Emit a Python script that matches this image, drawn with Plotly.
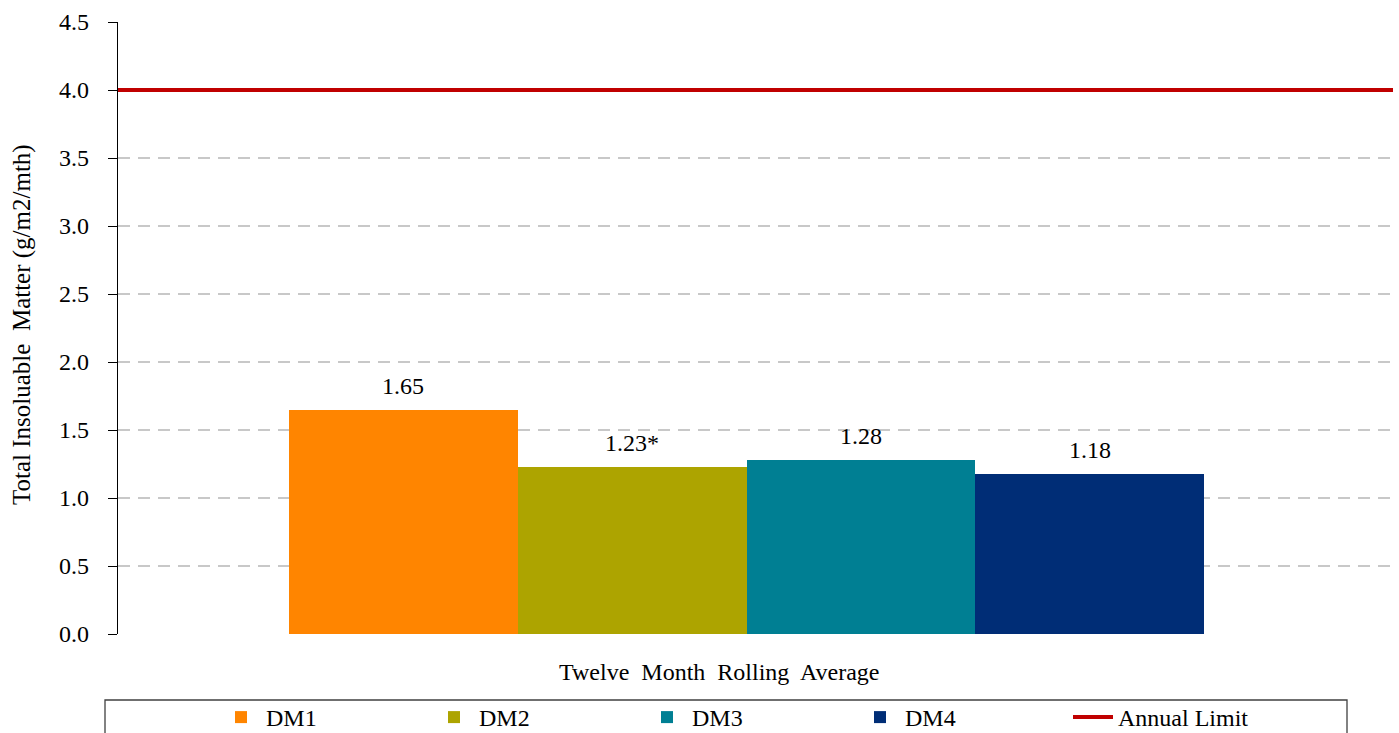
import plotly.graph_objects as go

series = ["DM1", "DM2", "DM3", "DM4"]
values = [1.65, 1.23, 1.28, 1.18]
labels = ["1.65", "1.23*", "1.28", "1.18"]
colors = ["#FF8500", "#ADA400", "#007F93", "#002D76"]
limit_name = "Annual Limit"
limit_value = 4.0
category = "Twelve  Month  Rolling  Average"
y_title = "Total Insoluable  Matter (g/m2/mth)"
y_ticks = [0.0, 0.5, 1.0, 1.5, 2.0, 2.5, 3.0, 3.5, 4.0, 4.5]

FONT = "Liberation Serif"
FS = 24
W, H = 1399, 733
L, R, T, B = 118, 6, 22, 99
pw = W - L - R
ph = H - T - B

x_lo, x_hi = -0.493, 0.507
bw = (915 / pw) / len(series)

fig = go.Figure()
for i, (s, v, c) in enumerate(zip(series, values, colors)):
    xi = (i - (len(series) - 1) / 2) * bw
    fig.add_trace(go.Bar(
        x=[xi], y=[v], width=[bw], name=s,
        marker=dict(color=c, line=dict(width=0)),
    ))
    fig.add_annotation(
        x=xi, y=v, text=labels[i], showarrow=False,
        yanchor="bottom", yshift=9,
        font=dict(family=FONT, size=FS, color="#000000"),
    )

fig.add_trace(go.Scatter(
    x=[x_lo, x_hi], y=[limit_value, limit_value], mode="lines",
    name=limit_name, line=dict(color="#C00000", width=4),
))

fig.add_annotation(
    x=(719 - L) / pw, y=(634 - 672) / ph, xref="paper", yref="paper",
    text=category, showarrow=False, xanchor="center", yanchor="middle",
    font=dict(family=FONT, size=FS, color="#000000"),
)
fig.add_annotation(
    x=(22 - L) / pw, y=(634 - 325) / ph, xref="paper", yref="paper",
    text=y_title, showarrow=False, textangle=-90,
    xanchor="center", yanchor="middle",
    font=dict(family=FONT, size=25, color="#000000"),
)

fig.add_shape(
    type="rect", xref="paper", yref="paper",
    x0=(105 - L) / pw, x1=(1347 - L) / pw,
    y0=(634 - 745) / ph, y1=(634 - 700) / ph,
    line=dict(color="#404040", width=1.3), fillcolor="rgba(0,0,0,0)",
    layer="above",
)

fig.update_layout(
    width=W, height=H,
    margin=dict(l=L, r=R, t=T, b=B, pad=0, autoexpand=False),
    paper_bgcolor="white", plot_bgcolor="white",
    barmode="overlay", bargap=0,
    font=dict(family=FONT, size=FS, color="#000000"),
    showlegend=True,
    legend=dict(
        orientation="h", x=(216 - L) / pw, xanchor="left",
        y=(634 - 695) / ph, yanchor="top",
        entrywidth=158, entrywidthmode="pixels", itemwidth=40,
        borderwidth=0, bgcolor="rgba(0,0,0,0)",
        font=dict(family=FONT, size=FS, color="#000000"),
        traceorder="normal", itemclick=False,
    ),
    xaxis=dict(
        range=[x_lo, x_hi], showticklabels=False, showgrid=False,
        zeroline=False, showline=False, ticks="",
    ),
    yaxis=dict(
        range=[0, 4.5], tickvals=y_ticks,
        ticktext=[f"{t:.1f}" for t in y_ticks],
        showgrid=True, gridcolor="#C8C8C8", griddash="12px,8px", gridwidth=1.5,
        zeroline=False, showline=True, linecolor="#000000", linewidth=1.3,
        ticks="outside", ticklen=9, tickcolor="#000000", tickwidth=1.3,
        ticklabelstandoff=14,
        tickfont=dict(family=FONT, size=FS, color="#000000"),
    ),
)

fig.write_html(
    "out.html",
    config={"displayModeBar": False},
    post_script="document.body.style.margin='0px';document.body.style.overflow='hidden';",
)
